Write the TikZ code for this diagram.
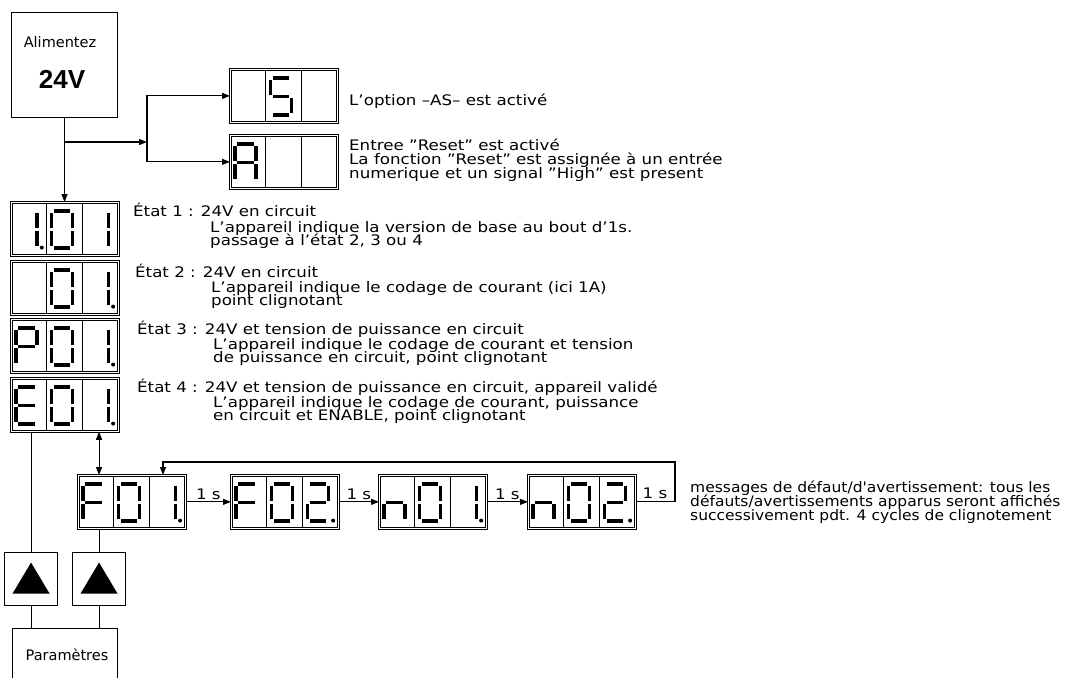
\documentclass[tikz,border=0pt]{standalone}
\usepackage{fontspec}
\setmainfont{DejaVu Sans}[FakeStretch=1.15]
\newfontfamily\plainfont{DejaVu Sans}
\newfontfamily\rightfont{DejaVu Sans}[FakeStretch=1.07]
\newfontfamily\boldsans{Liberation Sans}
\usetikzlibrary{arrows.meta,calc}

% seven-segment pieces (local coords of one cell, y downwards)
\newcommand\dsga{\draw[segl] (7.4,9)--(23.6,9);}
\newcommand\dsgb{\draw[segl] (26,11.4)--(26,25.6);}
\newcommand\dsgc{\draw[segl] (26,29.4)--(26,43.6);}
\newcommand\dsgd{\draw[segl] (7.4,46)--(23.6,46);}
\newcommand\dsge{\draw[segl] (5,29.4)--(5,43.6);}
\newcommand\dsgf{\draw[segl] (5,11.4)--(5,25.6);}
\newcommand\dsgg{\draw[segl] (7.4,27.5)--(23.6,27.5);}
\newcommand\dsgp{\fill (30.8,45.6) circle (2);}
\newcommand\dspdigit[3]{%
  \begin{scope}[shift={(#1,#2)}]
    \foreach \s in {#3}{\csname dsg\s\endcsname}
  \end{scope}}
\newcommand\dispunit[6]{%
  \node[dbox] (#1) at (#2,#3) {};
  \draw[divl] (#2+35.67,#3+1.4) -- (#2+35.67,#3+51.6);
  \draw[divl] (#2+71.33,#3+1.4) -- (#2+71.33,#3+51.6);
  \dspdigit{#2}{#3}{#4}
  \dspdigit{#2+35.67}{#3}{#5}
  \dspdigit{#2+71.33}{#3}{#6}}
% stacked lines with a fixed baseline distance; baseline of the node = first line
\newcommand\stk[2]{\vtop{\baselineskip=#1pt\lineskiplimit=-60pt\lineskip=0pt #2}}
% state text: heading line, then two indented lines
\newcommand\statetxt[6]{\vtop{\lineskiplimit=-60pt\lineskip=0pt
  \hbox{#1}\baselineskip=#4pt
  \hbox{\hskip#3pt #2}\baselineskip=#6pt
  \hbox{\hskip#3pt #5}}}

\begin{document}
\begin{tikzpicture}[x=1pt,y=-1pt,
  segl/.style={line width=3.6},
  divl/.style={line width=0.8},
  dbox/.style={draw,double,double distance=1.4,line width=0.75,minimum width=107,minimum height=53,inner sep=0,anchor=north west},
  plainbox/.style={draw,line width=1.1,inner sep=0,anchor=north west},
  conn/.style={line width=1.1},
  arr/.style={line width=1.1,-{Triangle[length=8,width=6]}},
  darr/.style={line width=1.1,{Triangle[length=8,width=6]}-{Triangle[length=8,width=6]}},
  txt/.style={inner sep=0,anchor=base west,font=\fontsize{14.5}{17}\selectfont},
  lbl/.style={inner sep=0,anchor=base,font=\fontsize{14.5}{17}\selectfont}]
\clip (0,0) rectangle (1083,677);

% power box
\node[plainbox,minimum width=106,minimum height=105] (pwr) at (11,12) {};
\node[lbl,font=\plainfont\fontsize{14.5}{17}\selectfont] (pwrA) at (60,48) {Alimentez};
\node[inner sep=0,anchor=base,font=\boldsans\bfseries\fontsize{26}{28}\selectfont] (pwrV) at (62,88) {24V};

% displays
\dispunit{dS}{230}{69}{}{a,f,g,c,d}{}
\dispunit{dA}{230}{135}{a,b,c,e,f,g}{}{}
\dispunit{st1}{11}{202}{b,c,p}{a,b,c,d,e,f}{b,c}
\dispunit{st2}{11}{261}{}{a,b,c,d,e,f}{b,c,p}
\dispunit{st3}{11}{319}{a,b,f,g,e}{a,b,c,d,e,f}{b,c,p}
\dispunit{st4}{11}{378}{a,f,g,e,d}{a,b,c,d,e,f}{b,c,p}
\dispunit{f01}{78}{475}{a,f,g,e}{a,b,c,d,e,f}{b,c,p}
\dispunit{f02}{231}{475}{a,f,g,e}{a,b,c,d,e,f}{a,b,g,e,d,p}
\dispunit{n01}{379}{475}{c,e,g}{a,b,c,d,e,f}{b,c,p}
\dispunit{n02}{528}{475}{c,e,g}{a,b,c,d,e,f}{a,b,g,e,d,p}

% key boxes
\node[plainbox,minimum width=53,minimum height=53] (t1) at (4,552) {};
\node[plainbox,minimum width=53,minimum height=53] (t2) at (72,552) {};
\fill ($(t1.center)+(0,-16.5)$) -- ++(18.5,31) -- ++(-37,0) -- cycle;
\fill ($(t2.center)+(0,-16.5)$) -- ++(18.5,31) -- ++(-37,0) -- cycle;
\node[plainbox,minimum width=105,minimum height=100] (par) at (12,628) {};
\node[lbl,font=\plainfont\fontsize{14.5}{17}\selectfont] (parT) at (67,660) {Paramètres};

% connectors
\coordinate (j1) at (pwr.south |- 0,142);
\coordinate (j2) at (147,142);
\draw[arr] (pwr.south) -- (st1.north -| pwr.south);
\draw[arr] (j1) -- (j2);
\draw[arr] (j2) |- (dS.west);
\draw[arr] (j2) |- (dA.west);
\draw[conn] (t1.north |- st4.south) -- (t1.north);
\draw[darr] (t2.north |- st4.south) -- (t2.north |- f01.north);
\draw[conn] (t2.north |- f01.south) -- (t2.north);
\draw[conn] (t1.south) -- (t1.south |- par.north);
\draw[conn] (t2.south) -- (t2.south |- par.north);
\draw[arr] (f01.east) -- node[lbl,above=1.5,anchor=south] (l1) {1 s} (f02.west);
\draw[arr] (f02.east) -- node[lbl,above=1.5,anchor=south] (l2) {1 s} (n01.west);
\draw[arr] (n01.east) -- node[lbl,above=1.5,anchor=south] (l3) {1 s} (n02.west);
\coordinate (lpR) at (675,462);
\coordinate (lpL) at (163,462);
\coordinate (f01in) at (163,475);
\draw[arr] (n02.east) -| (lpR) -- (lpL) -- (f01in);
\node[lbl] (l4) at (655,498) {1 s};

% texts
\node[txt] (tS) at (349,105) {L'option --AS-- est activé};
\node[txt] (tA) at (349,150) {\stk{14}{\hbox{Entree "Reset" est activé}\hbox{La fonction "Reset" est assignée à un entrée}\hbox{numerique et un signal "High" est present}}};

\node[txt] (e1) at (133,216) {\statetxt{État 1 : 24V en circuit}{L'appareil indique la version de base au bout d'1s.}{77}{16}{passage à l'état 2, 3 ou 4}{13}};
\node[txt] (e2) at (135,277) {\statetxt{État 2 : 24V en circuit}{L'appareil indique le codage de courant (ici 1A)}{76}{15}{point clignotant}{13}};
\node[txt] (e3) at (137,334) {\statetxt{État 3 : 24V et tension de puissance en circuit}{L'appareil indique le codage de courant et tension}{76}{15}{de puissance en circuit, point clignotant}{13}};
\node[txt] (e4) at (137,392) {\statetxt{État 4 : 24V et tension de puissance en circuit, appareil validé}{L'appareil indique le codage de courant, puissance}{76}{15}{en circuit et ENABLE, point clignotant}{13}};

\node[txt,font=\rightfont\fontsize{14.5}{17}\selectfont] (msg) at (690,492) {\stk{14}{\hbox{messages de défaut/d'avertissement: tous les}\hbox{défauts/avertissements apparus seront affichés}\hbox{successivement pdt. 4 cycles de clignotement}}};
\end{tikzpicture}
\end{document}
